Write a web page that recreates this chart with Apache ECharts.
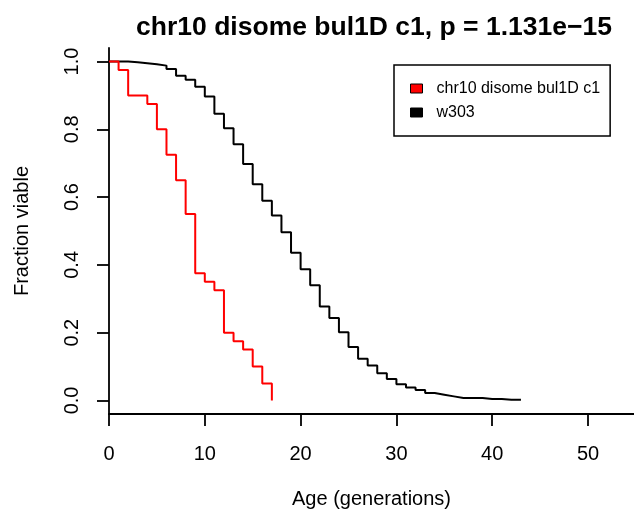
<!DOCTYPE html>
<html>
<head>
<meta charset="utf-8">
<script src="https://cdn.jsdelivr.net/npm/echarts@6/dist/echarts.min.js"></script>
<style>
html,body{margin:0;padding:0;background:#fff;}
#chart{width:634px;height:518px;}
</style>
</head>
<body>
<div id="chart"></div>
<script>
// Data
const titleText = 'chr10 disome bul1D c1, p = 1.131e\u221215';
const seriesNames = ['chr10 disome bul1D c1', 'w303'];
const seriesColors = ['#ff0000', '#000000'];

const redAges = [0, 1, 2, 4, 5, 6, 7, 8, 9, 10, 11, 12, 13, 14, 15, 16, 17];
const redSurv = [1.0, 0.975, 0.9, 0.875, 0.8, 0.725, 0.65, 0.55, 0.375, 0.35, 0.325, 0.2, 0.175, 0.15, 0.1, 0.05, 0.0];

const blackAges = [0, 1, 2, 3, 4, 5, 6, 7, 8, 9, 10, 11, 12, 13, 14, 15, 16, 17, 18, 19, 20,
  21, 22, 23, 24, 25, 26, 27, 28, 29, 30, 31, 32, 33, 34, 35, 36, 37, 38, 39, 40, 41, 42, 43];
const blackSurv = [1.0, 1.0, 0.998, 0.995, 0.992, 0.988, 0.978, 0.958, 0.946, 0.926, 0.897,
  0.846, 0.803, 0.756, 0.698, 0.638, 0.589, 0.546, 0.496, 0.436, 0.387,
  0.340, 0.277, 0.243, 0.201, 0.158, 0.123, 0.103, 0.080, 0.063, 0.048,
  0.038, 0.031, 0.022, 0.017, 0.012, 0.007, 0.007, 0.007, 0.004, 0.004, 0.002, 0.002, 0.002];

const xTicks = [0, 10, 20, 30, 40, 50];
const yTicks = [0, 0.2, 0.4, 0.6, 0.8, 1.0];
const xTitle = 'Age (generations)';
const yTitle = 'Fraction viable';

const FONT = '"Liberation Sans", Arial, Helvetica, sans-serif';

function pairs(xs, ys) { return xs.map((x, i) => [x, ys[i]]); }

const chart = echarts.init(document.getElementById('chart'), null, {renderer: 'canvas'});
chart.setOption({
  animation: false,
  backgroundColor: '#ffffff',
  textStyle: {fontFamily: FONT},
  title: {
    text: titleText,
    left: 369,
    textAlign: 'center',
    top: 9,
    textStyle: {fontFamily: FONT, fontWeight: 'bold', fontSize: 26.5, color: '#000'}
  },
  legend: {
    orient: 'vertical',
    left: 394,
    top: 65,
    padding: [15.5, 10, 15.5, 16],
    itemGap: 8,
    itemWidth: 12,
    itemHeight: 9,
    selectedMode: false,
    backgroundColor: '#fff',
    borderColor: '#000',
    borderWidth: 1.5,
    borderRadius: 0,
    textStyle: {fontFamily: FONT, fontSize: 16, color: '#000', lineHeight: 12, padding: [0, 0, 0, 9]},
    data: seriesNames.map((n, i) => ({
      name: n, icon: 'rect',
      itemStyle: {color: seriesColors[i], borderColor: '#000', borderWidth: 1}
    }))
  },
  grid: {left: 109, right: 0, top: 48, bottom: 104, containLabel: false},
  xAxis: {
    type: 'value',
    min: 0, max: 54.8,
    name: xTitle,
    nameLocation: 'middle',
    nameGap: 75,
    nameTextStyle: {fontFamily: FONT, fontSize: 20, color: '#000'},
    axisLine: {show: true, onZero: false, lineStyle: {color: '#000', width: 1.8}},
    axisTick: {show: true, length: 12, customValues: xTicks, lineStyle: {color: '#000', width: 1.8}},
    axisLabel: {customValues: xTicks, fontSize: 20, color: '#000', margin: 30, fontFamily: FONT},
    splitLine: {show: false}
  },
  yAxis: {
    type: 'value',
    min: -0.04, max: 1.04,
    name: yTitle,
    nameLocation: 'middle',
    nameRotate: 90,
    nameGap: 77,
    nameTextStyle: {fontFamily: FONT, fontSize: 20, color: '#000'},
    axisLine: {show: true, onZero: false, lineStyle: {color: '#000', width: 1.8}},
    axisTick: {show: true, length: 12, customValues: yTicks, lineStyle: {color: '#000', width: 1.8}},
    axisLabel: {customValues: yTicks, rotate: 90, fontSize: 20, color: '#000', margin: 27, fontFamily: FONT,
      formatter: v => v.toFixed(1)},
    splitLine: {show: false}
  },
  series: [
    {
      name: seriesNames[0], type: 'line', step: 'end', showSymbol: false, symbol: 'none',
      data: pairs(redAges, redSurv),
      itemStyle: {color: seriesColors[0]},
      lineStyle: {color: seriesColors[0], width: 2},
      z: 3
    },
    {
      name: seriesNames[1], type: 'line', step: 'end', showSymbol: false, symbol: 'none',
      data: pairs(blackAges, blackSurv),
      itemStyle: {color: seriesColors[1]},
      lineStyle: {color: seriesColors[1], width: 2},
      z: 2
    }
  ]
});
</script>
</body>
</html>
